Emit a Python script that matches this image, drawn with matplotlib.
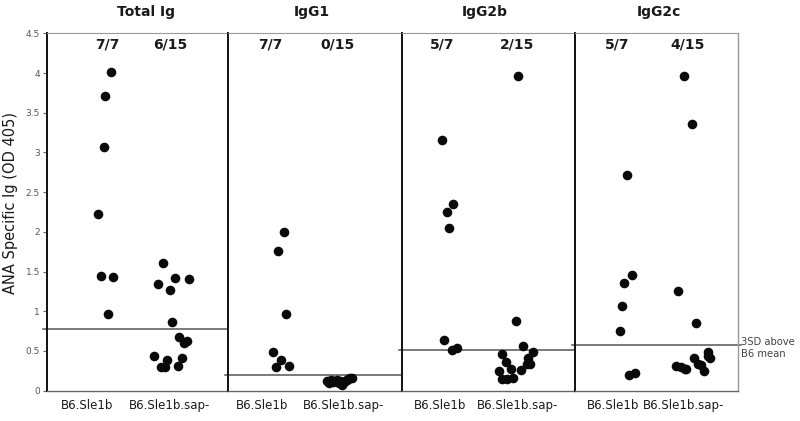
import matplotlib
matplotlib.use("Agg")
import matplotlib.pyplot as plt

plt.rcParams['font.family'] = ['DejaVu Sans']

# ---- data ----
panels = ["Total Ig", "IgG1", "IgG2b", "IgG2c"]
groups = ["B6.Sle1b", "B6.Sle1b.sap-"]
fractions = [["7/7", "6/15"], ["7/7", "0/15"], ["5/7", "2/15"], ["5/7", "4/15"]]
thresholds = [0.77, 0.19, 0.51, 0.575]

# B6.Sle1b values (OD 405) and jitter
sle_vals = [
    [4.01, 3.71, 3.07, 2.23, 1.44, 1.43, 0.965],
    [1.995, 1.76, 0.965, 0.48, 0.39, 0.29, 0.31],
    [3.16, 2.35, 2.25, 2.05, 0.64, 0.51, 0.53],
    [2.72, 1.46, 1.36, 1.06, 0.75, 0.195, 0.225],
]
sle_jit = [
    [0.07, -0.01, -0.035, -0.12, -0.08, 0.11, 0.03],
    [0.05, -0.05, 0.09, -0.13, 0.0, -0.09, 0.13],
    [-0.09, 0.08, -0.02, 0.02, -0.06, 0.06, 0.13],
    [0.0, 0.08, -0.05, -0.07, -0.11, 0.03, 0.12],
]
# B6.Sle1b.sap- values and jitter
sap_vals = [
    [1.61, 1.34, 1.42, 1.41, 1.27, 0.86, 0.68, 0.62, 0.60, 0.44, 0.30, 0.30, 0.385, 0.31, 0.41],
    [0.12, 0.10, 0.13, 0.11, 0.12, 0.13, 0.10, 0.12, 0.07, 0.11, 0.12, 0.13, 0.14, 0.16, 0.16],
    [3.96, 0.88, 0.565, 0.49, 0.46, 0.41, 0.355, 0.33, 0.34, 0.27, 0.26, 0.24, 0.145, 0.145, 0.16],
    [3.96, 3.36, 1.26, 0.85, 0.31, 0.29, 0.27, 0.41, 0.34, 0.24, 0.48, 0.41, 0.44, 0.32, 0.27],
]
sap_jit = [
    [-0.13, -0.20, 0.06, 0.28, -0.02, 0.02, 0.13, 0.24, 0.20, -0.26, -0.16, -0.09, -0.06, 0.10, 0.17],
    [-0.21, -0.17, -0.14, -0.10, -0.07, -0.03, 0.0, 0.02, 0.05, 0.08, 0.10, 0.13, 0.16, 0.19, 0.22],
    [0.03, 0.0, 0.11, 0.25, -0.21, 0.18, -0.15, 0.21, 0.16, -0.07, 0.07, -0.25, -0.20, -0.13, -0.05],
    [-0.14, -0.02, -0.22, 0.04, -0.26, -0.18, -0.10, 0.02, 0.08, 0.16, 0.22, 0.26, 0.23, 0.12, -0.12],
]
yticks = [0, 0.5, 1, 1.5, 2, 2.5, 3, 3.5, 4, 4.5]

# ---- layout (pixels of the 800x421 figure) ----
W, H = 800, 421
edges = [47, 228, 402, 575, 738]
y_bot, y_top = 390.5, 33.5
xlims = [(-0.908, 1.877), (-0.914, 2.086), (-0.676, 1.868), (-0.788, 1.682)]
tick_pos = [(-0.29, 0.985), (-0.33, 1.07), (-0.12, 1.03), (-0.21, 0.85)]
frac_pos = [(0.015, 0.985), (-0.19, 0.98), (-0.09, 1.01), (-0.15, 0.92)]
title_x = [146, 312, 485, 659]

fig = plt.figure(figsize=(W / 100, H / 100), dpi=100)
fig.patch.set_facecolor("white")

for i in range(4):
    ax = fig.add_axes([edges[i] / W, 1 - y_bot / H,
                       (edges[i + 1] - edges[i]) / W, (y_bot - y_top) / H])
    ax.set_xlim(*xlims[i])
    ax.set_ylim(0, 4.5)

    ax.scatter([0 + j for j in sle_jit[i]], sle_vals[i], s=48, color="#0a0a0a",
               linewidths=0, zorder=3, clip_on=False)
    ax.scatter([1 + j for j in sap_jit[i]], sap_vals[i], s=48, color="#0a0a0a",
               linewidths=0, zorder=3, clip_on=False)

    ax.axhline(thresholds[i], xmin=-0.02, xmax=1.02, color="#555555", lw=1.1,
               clip_on=False, zorder=2)

    for k in range(2):
        ax.text(frac_pos[i][k], 4.36, fractions[i][k], ha="center", va="center",
                fontsize=10, fontweight="bold", color="#1a1a1a")

    ax.set_xticks(tick_pos[i])
    ax.set_xticklabels(groups, fontsize=8.5, color="#1a1a1a")
    ax.tick_params(axis="x", length=0, pad=6)

    for s in ax.spines.values():
        s.set_linewidth(1.0)
    ax.spines["top"].set_color("#999999")
    ax.spines["top"].set_linewidth(0.8)
    ax.spines["bottom"].set_color("#666666")
    ax.spines["left"].set_color("#111111")
    ax.spines["left"].set_linewidth(1.4)
    if i < 3:
        ax.spines["right"].set_visible(False)
    else:
        ax.spines["right"].set_color("#999999")

    if i == 0:
        ax.set_yticks(yticks)
        ax.set_yticklabels(["%g" % t for t in yticks], fontsize=6.5, color="#555555")
        ax.tick_params(axis="y", length=3, width=0.8, color="#666666", pad=2)
    else:
        ax.set_yticks([])

    fig.text(title_x[i] / W, 1 - 12 / H, panels[i], ha="center", va="center",
             fontsize=10, fontweight="bold", color="#1a1a1a")

fig.text(11 / W, 1 - 203 / H, "ANA Specific Ig (OD 405)", rotation=90,
         ha="center", va="center", fontsize=10.5, color="#1a1a1a")
fig.text(741 / W, 1 - 348 / H, "3SD above\nB6 mean", ha="left", va="center",
         fontsize=7.2, color="#444444", linespacing=1.2)

fig.savefig("out.png", dpi=100, facecolor="white")
